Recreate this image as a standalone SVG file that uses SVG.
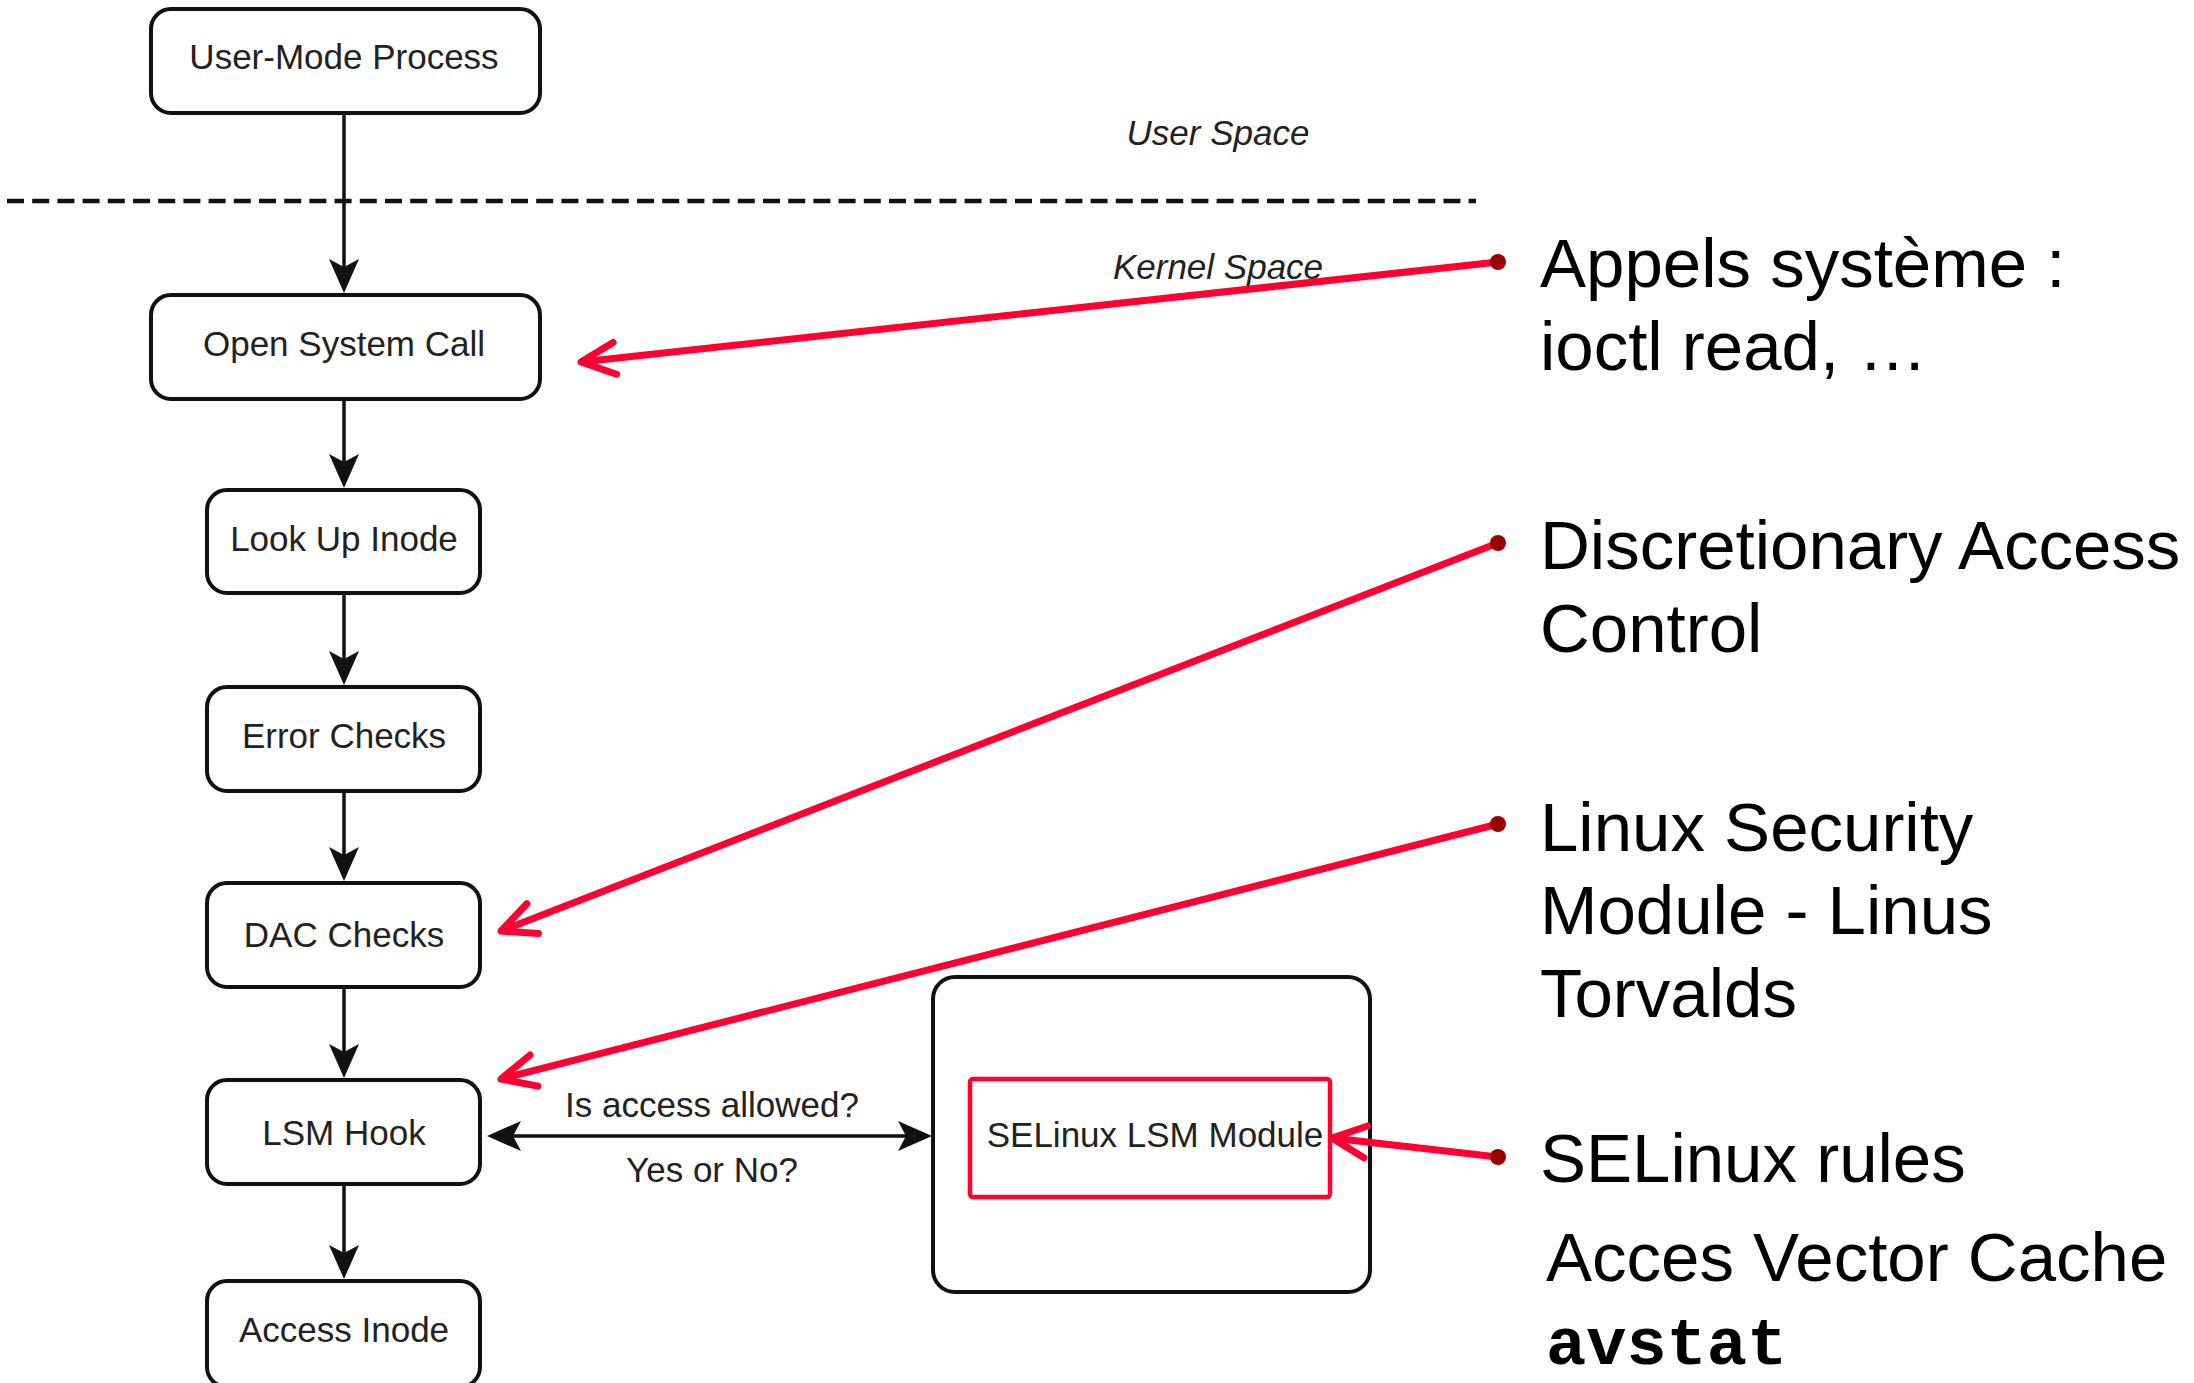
<svg xmlns="http://www.w3.org/2000/svg" width="2194" height="1383" viewBox="0 0 2194 1383">
<style>
.box{fill:#fff;stroke:#111;stroke-width:4}
.nt{font-family:"Liberation Sans",Arial,sans-serif;font-size:35px;fill:#222;text-anchor:middle}
.it{font-family:"Liberation Sans",Arial,sans-serif;font-size:35px;font-style:italic;fill:#222;text-anchor:middle}
.big{font-family:"Liberation Sans",Arial,sans-serif;font-size:69px;fill:#000}
.mono{font-family:"Liberation Mono","Courier New",monospace;font-size:67px;font-weight:bold;fill:#000}
.conn{stroke:#111;stroke-width:3.5;fill:none}
.red{stroke:#FF0033;stroke-width:7;fill:none}
.dot{fill:#990000}
</style>
<defs>
<marker id="blk" markerUnits="userSpaceOnUse" markerWidth="60" markerHeight="40" viewBox="-10 -20 60 40" refX="0" refY="0" orient="auto-start-reverse" overflow="visible">
<path d="M26,0 L-8,-15 L0,0 L-8,15 Z" fill="#111"/>
</marker>
<marker id="rv" markerUnits="userSpaceOnUse" markerWidth="60" markerHeight="60" viewBox="-50 -30 60 60" refX="0" refY="0" orient="auto" overflow="visible">
<path d="M-34,-16 L0,0 L-34,16" fill="none" stroke="#FF0033" stroke-width="7" stroke-linecap="round" stroke-linejoin="round"/>
</marker>
</defs>
<rect width="2194" height="1383" fill="#fff"/>

<g id="separator">
<line x1="7" y1="201" x2="1476" y2="201" stroke="#111" stroke-width="4.5" stroke-dasharray="17 8.2"/>
<text class="it" x="1218" y="145">User Space</text>
<text class="it" x="1218" y="279">Kernel Space</text>
</g>

<g id="connectors">
<line class="conn" x1="344" y1="113" x2="344" y2="267" marker-end="url(#blk)"/>
<line class="conn" x1="344" y1="399" x2="344" y2="462" marker-end="url(#blk)"/>
<line class="conn" x1="344" y1="593" x2="344" y2="659" marker-end="url(#blk)"/>
<line class="conn" x1="344" y1="791" x2="344" y2="855" marker-end="url(#blk)"/>
<line class="conn" x1="344" y1="987" x2="344" y2="1052" marker-end="url(#blk)"/>
<line class="conn" x1="344" y1="1184" x2="344" y2="1253" marker-end="url(#blk)"/>
<line class="conn" x1="513" y1="1136" x2="906" y2="1136" marker-start="url(#blk)" marker-end="url(#blk)"/>
<text class="nt" x="712" y="1117">Is access allowed?</text>
<text class="nt" x="712" y="1182">Yes or No?</text>
</g>

<g id="user-mode-process">
<rect class="box" x="151" y="9" width="389" height="104" rx="20"/>
<text class="nt" x="344" y="69">User-Mode Process</text>
</g>
<g id="open-system-call">
<rect class="box" x="151" y="295" width="389" height="104" rx="20"/>
<text class="nt" x="344" y="356">Open System Call</text>
</g>
<g id="look-up-inode">
<rect class="box" x="207" y="490" width="273" height="103" rx="20"/>
<text class="nt" x="344" y="551">Look Up Inode</text>
</g>
<g id="error-checks">
<rect class="box" x="207" y="687" width="273" height="104" rx="20"/>
<text class="nt" x="344" y="748">Error Checks</text>
</g>
<g id="dac-checks">
<rect class="box" x="207" y="883" width="273" height="104" rx="20"/>
<text class="nt" x="344" y="947">DAC Checks</text>
</g>
<g id="lsm-hook">
<rect class="box" x="207" y="1080" width="273" height="104" rx="20"/>
<text class="nt" x="344" y="1145">LSM Hook</text>
</g>
<g id="access-inode">
<rect class="box" x="207" y="1281" width="273" height="106" rx="20"/>
<text class="nt" x="344" y="1342">Access Inode</text>
</g>
<g id="selinux-container">
<rect class="box" x="933" y="977" width="437" height="315" rx="22"/>
</g>
<g id="selinux-lsm-module">
<rect x="970" y="1079" width="360" height="118" rx="3" fill="none" stroke="#FF0033" stroke-width="4.5"/>
<text class="nt" x="1155" y="1147">SELinux LSM Module</text>
</g>

<g id="annotations">
<line class="red" x1="1498" y1="262" x2="581" y2="362" marker-end="url(#rv)"/>
<line class="red" x1="1498" y1="543" x2="501" y2="931" marker-end="url(#rv)"/>
<line class="red" x1="1498" y1="824" x2="501" y2="1079" marker-end="url(#rv)"/>
<line class="red" x1="1498" y1="1157" x2="1332" y2="1138" marker-end="url(#rv)"/>
<circle class="dot" cx="1498" cy="262" r="8"/>
<circle class="dot" cx="1498" cy="543" r="8"/>
<circle class="dot" cx="1498" cy="824" r="8"/>
<circle class="dot" cx="1498" cy="1157" r="8"/>
</g>

<g id="note-syscalls">
<text class="big" x="1540" y="287">Appels système :</text>
<text class="big" x="1540" y="370">ioctl read, …</text>
</g>
<g id="note-dac">
<text class="big" x="1540" y="569">Discretionary Access</text>
<text class="big" x="1540" y="652">Control</text>
</g>
<g id="note-lsm">
<text class="big" x="1540" y="851">Linux Security</text>
<text class="big" x="1540" y="934">Module - Linus</text>
<text class="big" x="1540" y="1017">Torvalds</text>
</g>
<g id="note-selinux">
<text class="big" x="1540" y="1182">SELinux rules</text>
<text class="big" x="1546" y="1281">Acces Vector Cache</text>
<text class="mono" x="1546" y="1364">avstat</text>
</g>
</svg>
